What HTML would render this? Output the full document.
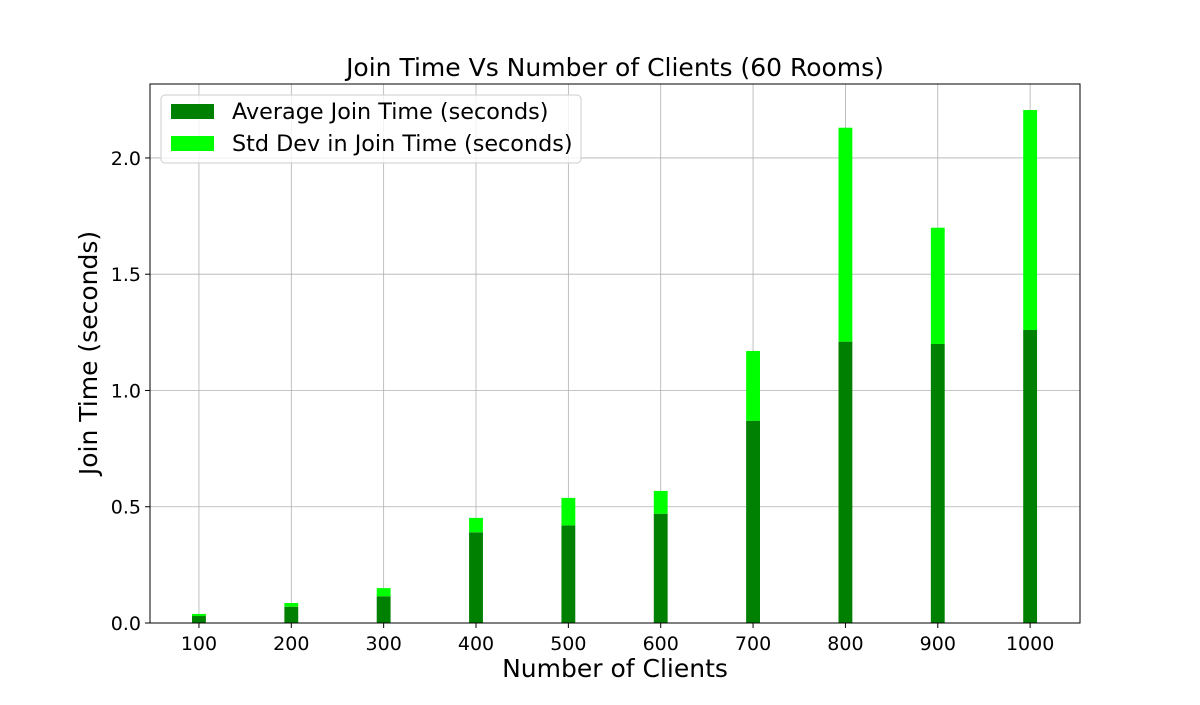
<!DOCTYPE html>
<html><head><meta charset="utf-8"><style>
body{margin:0;background:#fff}
svg{font-family:"DejaVu Sans","Liberation Sans",sans-serif}
</style></head><body>
<svg id="chart" width="1200" height="700">
<rect width="1200" height="700" fill="#fff"/>
<g id="grid"></g>
<g id="bars"></g>
<rect x="150" y="84" width="930" height="539" fill="none" stroke="#000" stroke-width="1"/>
<g id="ticks"></g>
<text x="615" y="76" font-size="25" text-anchor="middle">Join Time Vs Number of Clients (60 Rooms)</text>
<text x="615" y="677" font-size="25" text-anchor="middle">Number of Clients</text>
<text transform="translate(97,353) rotate(-90)" font-size="25" text-anchor="middle">Join Time (seconds)</text>
<g>
<rect x="161" y="95" width="420" height="68" rx="4" fill="#fff" fill-opacity="0.8" stroke="#ccc"/>
<rect x="171" y="104" width="43" height="15" fill="#008000"/>
<text x="232" y="119" font-size="22.3">Average Join Time (seconds)</text>
<rect x="171" y="136" width="43" height="15" fill="#00ff00"/>
<text x="232" y="151" font-size="22.3">Std Dev in Join Time (seconds)</text>
</g>
</svg>
<script>
const categories=[100,200,300,400,500,600,700,800,900,1000];
const avgValues=[0.03,0.07,0.115,0.39,0.42,0.47,0.87,1.21,1.20,1.26];
const stdValues=[0.009,0.016,0.035,0.062,0.118,0.098,0.30,0.92,0.50,0.946];
const yTicks=[0,0.5,1.0,1.5,2.0];
const yTickLabels=["0.0","0.5","1.0","1.5","2.0"];
const NS="http://www.w3.org/2000/svg";
const X0=150,X1=1080,Y0=623,Y1=84;
const xMin=47,xMax=1054,yMin=0,yMax=2.318;
function xs(v){return X0+(v-xMin)/(xMax-xMin)*(X1-X0);}
function ys(v){return Y0-(v-yMin)/(yMax-yMin)*(Y0-Y1);}
function mk(tag,attrs,parent){const e=document.createElementNS(NS,tag);for(const k in attrs)e.setAttribute(k,attrs[k]);parent.appendChild(e);return e;}
const grid=document.getElementById('grid'),bars=document.getElementById('bars'),ticks=document.getElementById('ticks');
categories.forEach((c,i)=>{
 const x=xs(c);
 const gl=mk('line',{x1:x,x2:x,y1:Y1,y2:Y0,stroke:'#b0b0b0','stroke-width':0.8},grid);
 
 
 const tk=mk('line',{x1:x,x2:x,y1:Y0,y2:Y0+5,stroke:'#000'},ticks);
 
 
 const t=mk('text',{x:x,y:Y0+27,'font-size':19,'text-anchor':'middle'},ticks);
 t.textContent=c;
 
 
 const w=xs(c+7.5)-xs(c-7.5);
 const a=mk('rect',{x:x-w/2,y:ys(avgValues[i]),width:w,height:ys(0)-ys(avgValues[i]),fill:'#008000'},bars);
 
 
 const top=avgValues[i]+stdValues[i];
 const s=mk('rect',{x:x-w/2,y:ys(top),width:w,height:ys(avgValues[i])-ys(top),fill:'#00ff00'},bars);
 
 
});
yTicks.forEach((v,i)=>{
 const y=ys(v);
 const gl=mk('line',{x1:X0,x2:X1,y1:y,y2:y,stroke:'#b0b0b0','stroke-width':0.8},grid);
 
 
 const tk=mk('line',{x1:X0-5,x2:X0,y1:y,y2:y,stroke:'#000'},ticks);
 
 
 const t=mk('text',{x:X0-9,y:y+7,'font-size':19,'text-anchor':'end'},ticks);
 t.textContent=yTickLabels[i];
 
 
});
</script>
</body></html>
